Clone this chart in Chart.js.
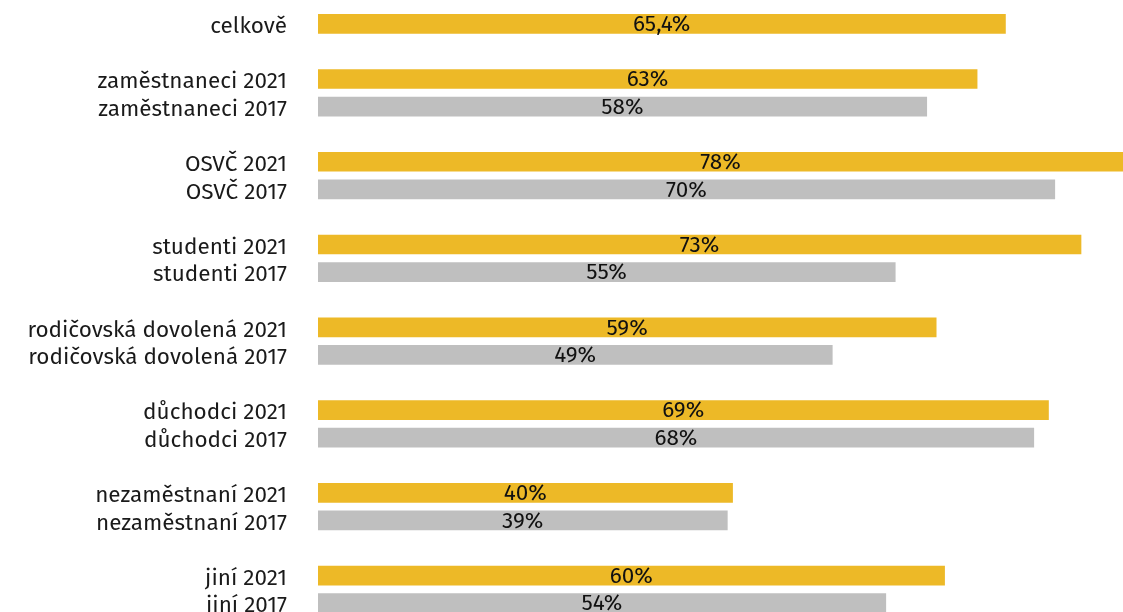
<!DOCTYPE html>
<html>
<head>
<meta charset="utf-8">
<script src="https://cdn.jsdelivr.net/npm/chart.js@4"></script>
<style>
  html, body { margin: 0; padding: 0; background: #fff; overflow: hidden; }
  #wrap { position: relative; width: 1123px; height: 617px; }
</style>
</head>
<body>
<div id="wrap"><canvas id="graf"></canvas></div>
<script>
// kategorie (prazdne retezce = mezera mezi skupinami)
var kategorie = ['celkově', '',
  'zaměstnaneci 2021', 'zaměstnaneci 2017', '',
  'OSVČ 2021', 'OSVČ 2017', '',
  'studenti 2021', 'studenti 2017', '',
  'rodičovská dovolená 2021', 'rodičovská dovolená 2017', '',
  'důchodci 2021', 'důchodci 2017', '',
  'nezaměstnaní 2021', 'nezaměstnaní 2017', '',
  'jiní 2021', 'jiní 2017'];
// delky sloupcu
var hodnoty = [65.5, null,
  62.8, 58.0, null,
  78.0, 70.2, null,
  72.7, 55.0, null,
  58.9, 49.0, null,
  69.6, 68.2, null,
  39.5, 39.0, null,
  59.7, 54.1];
// popisky
var popisky = ['65,4%', '',
  '63%', '58%', '',
  '78%', '70%', '',
  '73%', '55%', '',
  '59%', '49%', '',
  '69%', '68%', '',
  '40%', '39%', '',
  '60%', '54%'];

var zluta = '#EDB927';
var seda = '#BFBFBF';
var barvy = kategorie.map(function(k){ return k.indexOf('2017') >= 0 ? seda : zluta; });
var pismo = '"Fira Sans", "Noto Sans", sans-serif';

var popiskyPlugin = {
  id: 'popisky',
  afterDatasetsDraw: function(chart) {
    var ctx = chart.ctx;
    var area = chart.chartArea;
    var meta = chart.getDatasetMeta(0);
    ctx.save();
    ctx.font = '22.5px ' + pismo;
    ctx.fillStyle = '#111';
    ctx.textAlign = 'center';
    ctx.textBaseline = 'middle';
    meta.data.forEach(function(bar, i) {
      if (!popisky[i]) return;
      var konec = Math.min(bar.x, area.right);
      var x = (bar.base + konec) / 2;
      ctx.fillText(popisky[i], x, bar.y + 1);
    });
    ctx.restore();
  }
};

new Chart(document.getElementById('graf'), {
  type: 'bar',
  data: {
    labels: kategorie,
    datasets: [{
      data: hodnoty,
      backgroundColor: barvy,
      barThickness: 19,
      borderWidth: 0
    }]
  },
  options: {
    indexAxis: 'y',
    responsive: true,
    maintainAspectRatio: false,
    animation: false,
    layout: { padding: { top: 10, bottom: 0, left: 0, right: 0 } },
    plugins: {
      legend: { display: false },
      tooltip: { enabled: false }
    },
    scales: {
      x: {
        min: 0,
        max: 76.7,
        display: false
      },
      y: {
        grid: { display: false },
        border: { display: false },
        ticks: {
          color: '#1a1a1a',
          padding: 23,
          labelOffset: 3,
          autoSkip: false,
          font: { family: pismo, size: 22.5 }
        },
        afterFit: function(scale) {
          scale.width = 318;
          scale.paddingTop = 0;
          scale.paddingBottom = 0;
        }
      }
    }
  },
  plugins: [popiskyPlugin]
});
</script>
</body>
</html>
